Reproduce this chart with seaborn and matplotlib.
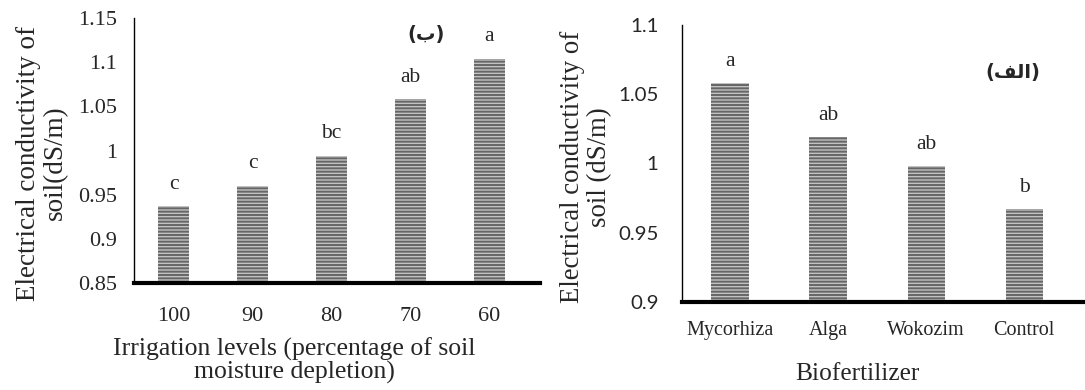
import matplotlib
matplotlib.use("Agg")
import matplotlib.pyplot as plt
import seaborn as sns
import pandas as pd

# irrigation levels panel (b)
irrig_levels = ['100', '90', '80', '70', '60']
ec_irrig = [0.937, 0.960, 0.994, 1.058, 1.104]
letters_irrig = ['c', 'c', 'bc', 'ab', 'a']

# biofertilizer panel (a)
biofert = ['Mycorhiza', 'Alga', 'Wokozim', 'Control']
ec_bio = [1.058, 1.019, 0.998, 0.967]
letters_bio = ['a', 'ab', 'ab', 'b']

sns.set_style("white")
plt.rcParams['font.family'] = ['Liberation Serif', 'DejaVu Sans']
plt.rcParams['hatch.linewidth'] = 1.4

df_irrig = pd.DataFrame({'level': irrig_levels, 'ec': ec_irrig})
df_bio = pd.DataFrame({'bio': biofert, 'ec': ec_bio})

fig = plt.figure(figsize=(10.85, 3.9), dpi=100)
ax1 = fig.add_axes([134 / 1085, 1 - 283 / 390, 406 / 1085, 265 / 390])
ax2 = fig.add_axes([682 / 1085, 1 - 302 / 390, 401 / 1085, 277 / 390])

bar_kw = dict(color='#c2c2c2', edgecolor='#666666', linewidth=0, hatch='-----')

# left panel
sns.barplot(data=df_irrig, x='level', y='ec', ax=ax1, width=0.39, **bar_kw)
ax1.set_ylim(0.85, 1.15)
ax1.set_xlim(-0.5, 4.64)
ax1.set_yticks([0.85, 0.9, 0.95, 1, 1.05, 1.1, 1.15])
ax1.set_yticklabels(['0.85', '0.9', '0.95', '1', '1.05', '1.1', '1.15'])
ax1.tick_params(axis='y', labelsize=16, length=0, pad=12)
ax1.tick_params(axis='x', labelsize=16, length=0, pad=17)
ax1.set_xlabel('Irrigation levels (percentage of soil\nmoisture depletion)', fontsize=18.5, linespacing=1.0)
ax1.xaxis.set_label_coords((294 - 134) / 406, -0.205)
ax1.set_ylabel('Electrical conductivity of\nsoil(dS/m)', fontsize=19.5, linespacing=1.1)
ax1.yaxis.set_label_coords((68 - 134) / 406, 0.453)
for i, (v, t) in enumerate(zip(ec_irrig, letters_irrig)):
    ax1.annotate(t, (i, v), xytext=(0, 9), textcoords='offset points', ha='center', va='bottom', fontsize=15.5)
ax1.text(0.72, 0.936, '(ب)', transform=ax1.transAxes, fontsize=14, fontweight='bold',
         family=['DejaVu Sans'], ha='center', va='center')

# right panel
sns.barplot(data=df_bio, x='bio', y='ec', ax=ax2, width=0.38, **bar_kw)
ax2.set_ylim(0.9, 1.1)
ax2.set_xlim(-0.49, 3.6)
ax2.set_yticks([0.9, 0.95, 1, 1.05, 1.1])
ax2.set_yticklabels(['0.9', '0.95', '1', '1.05', '1.1'], family=['Lato', 'DejaVu Sans'], fontsize=14.7)
ax2.tick_params(axis='y', length=0, pad=17)
ax2.tick_params(axis='x', labelsize=14.5, length=0, pad=14)
ax2.set_xlabel('Biofertilizer', fontsize=18.3)
ax2.xaxis.set_label_coords((857 - 682) / 401, -0.222)
ax2.set_ylabel('Electrical conductivity of\nsoil (dS/m)', fontsize=19.3, linespacing=1.1)
ax2.yaxis.set_label_coords((612 - 682) / 401, 0.487)
for i, (v, t) in enumerate(zip(ec_bio, letters_bio)):
    ax2.annotate(t, (i, v), xytext=(0, 9), textcoords='offset points', ha='center', va='bottom', fontsize=15.5)
ax2.text(0.825, 0.83, '(\ufed2\ufedf\ufe8d)', transform=ax2.transAxes, fontsize=14, fontweight='bold',
         family=['DejaVu Sans'], ha='center', va='center')

for ax in (ax1, ax2):
    sns.despine(ax=ax)
    ax.spines['left'].set_linewidth(1.0)
    ax.spines['left'].set_color('black')
    ax.spines['bottom'].set_linewidth(3)
    ax.spines['bottom'].set_color('black')

fig.savefig('out.png', dpi=100)
